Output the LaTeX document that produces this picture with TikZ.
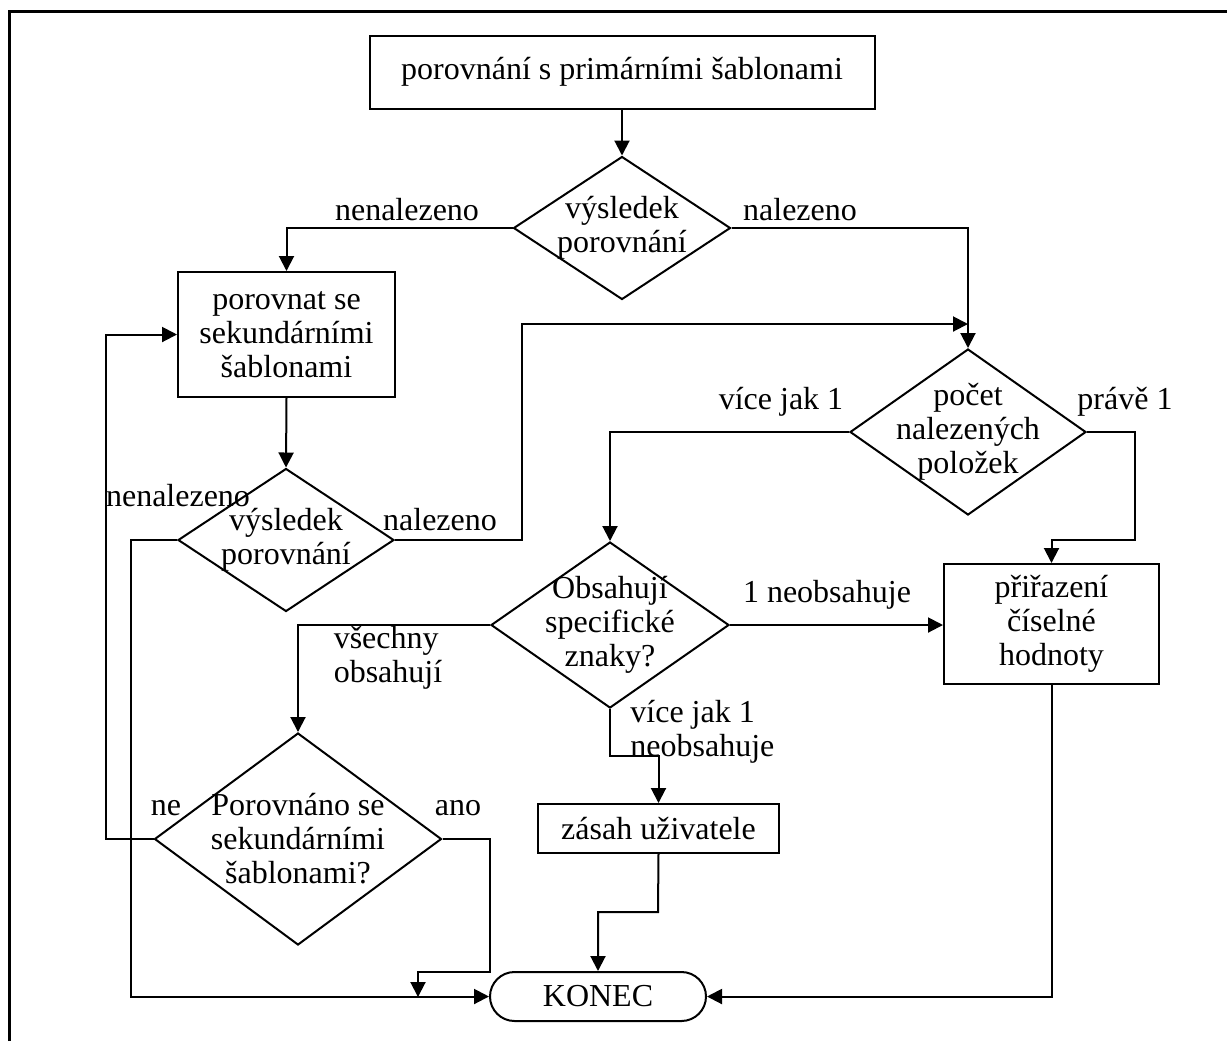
\documentclass[tikz,border=0pt]{standalone}
\usepackage{fontspec}
\setmainfont{Liberation Serif}
\usetikzlibrary{shapes.geometric,shapes.misc,arrows.meta}
\begin{document}
\begin{tikzpicture}[x=0.5pt,y=-0.5pt,
  font=\fontsize{16pt}{17pt}\selectfont,
  conn/.style={line width=1pt},
  arr/.style={line width=1pt,-{Triangle[length=7.5pt,width=7.5pt]}},
  boxnode/.style={draw,line width=1pt,rectangle,inner sep=0pt,align=center},
  dianode/.style={draw,line width=1pt,diamond,inner sep=0pt},
  txt/.style={inner sep=0pt,align=center},
  lbl/.style={inner sep=0pt}]
\useasboundingbox (0,0) rectangle (1227,1041);
\draw[line width=1.5pt] (9,1041) -- (9,11) -- (1227,11);

% nodes
\node[boxnode,minimum width=252.5pt,minimum height=36.5pt] (box1) at (622,72) {porovnání s primárními šablonami};
\node[dianode,minimum width=108.5pt,minimum height=71.5pt] (dia1) at (622,228) {};
\node[txt] (dia1t) at (dia1.center) {výsledek\\porovnání};
\node[boxnode,minimum width=108.5pt,minimum height=62.5pt] (box2) at (286.5,334.5) {porovnat se\\sekundárními\\šablonami};
\node[dianode,minimum width=108pt,minimum height=71.5pt] (dia2) at (286,540) {};
\node[txt] (dia2t) at (dia2.center) {výsledek\\porovnání};
\node[dianode,minimum width=118pt,minimum height=83pt] (dia3) at (968,432) {};
\node[txt] (dia3t) at (dia3.center) {počet\\nalezených\\položek};
\node[boxnode,minimum width=107.5pt,minimum height=60pt] (box3) at (1051.5,624) {přiřazení\\číselné\\hodnoty};
\node[dianode,minimum width=119pt,minimum height=83pt] (dia4) at (610,625) {};
\node[txt] (dia4t) at (dia4.center) {Obsahují\\specifické\\znaky?};
\node[dianode,minimum width=143.5pt,minimum height=106pt] (dia5) at (298,839) {};
\node[txt] (dia5t) at (dia5.center) {Porovnáno se\\sekundárními\\šablonami?};
\node[boxnode,minimum width=120.5pt,minimum height=24.5pt] (box4) at (658.5,828.5) {zásah uživatele};
\node[draw,line width=1pt,rounded rectangle,inner sep=0pt,minimum width=108pt,minimum height=24.5pt] (konec) at (598,996.5) {KONEC};

% free ends
\coordinate (j1) at (968,324);
\coordinate (j2) at (418,997);

% connectors
\draw[arr] (box1.south) -- (dia1.north);
\draw[arr] (dia1.west) -| (box2.north);
\draw[arr] (dia1.east) -| (dia3.north);
\draw[arr] (box2.south) -- (dia2.north);
\draw[arr] (dia2.east) -- (522,540) |- (j1);
\draw[arr] (dia2.west) -- (131,540) |- (konec.west);
\draw[arr] (dia3.west) -| (dia4.north);
\draw[arr] (dia3.east) -- (1135,432) -- (1135,540) -| (box3.north);
\draw[arr] (dia4.east) -- (dia4.east -| box3.west);
\draw[arr] (dia4.west) -| (dia5.north);
\draw[arr] (dia4.south) -- (610,756) -| (box4.north);
\draw[arr] (box4.south) -- (658,912) -| (konec.north);
\draw[arr] (box3.south) |- (konec.east);
\draw[arr] (dia5.east) -- (490,839) -- (490,972) -| (j2);
\draw[arr] (dia5.west) -- (106,839) |- (box2.west);

% labels
\node[lbl] (l1) at (407,210) {nenalezeno};
\node[lbl] (l2) at (800,210) {nalezeno};
\node[lbl] (l3) at (178,496) {nenalezeno};
\node[lbl] (l4) at (440,520) {nalezeno};
\node[lbl] (l5) at (781,402) {více jak 1};
\node[lbl] (l6) at (1125,402) {právě 1};
\node[lbl] (l7) at (827,595) {1 neobsahuje};
\node[lbl,align=left,anchor=west] (l8) at (630,732) {více jak 1\\neobsahuje};
\node[lbl,align=left] (l9) at (388,658) {všechny\\obsahují};
\node[lbl] (l10) at (166,808) {ne};
\node[lbl] (l11) at (458,808) {ano};
\end{tikzpicture}
\end{document}
